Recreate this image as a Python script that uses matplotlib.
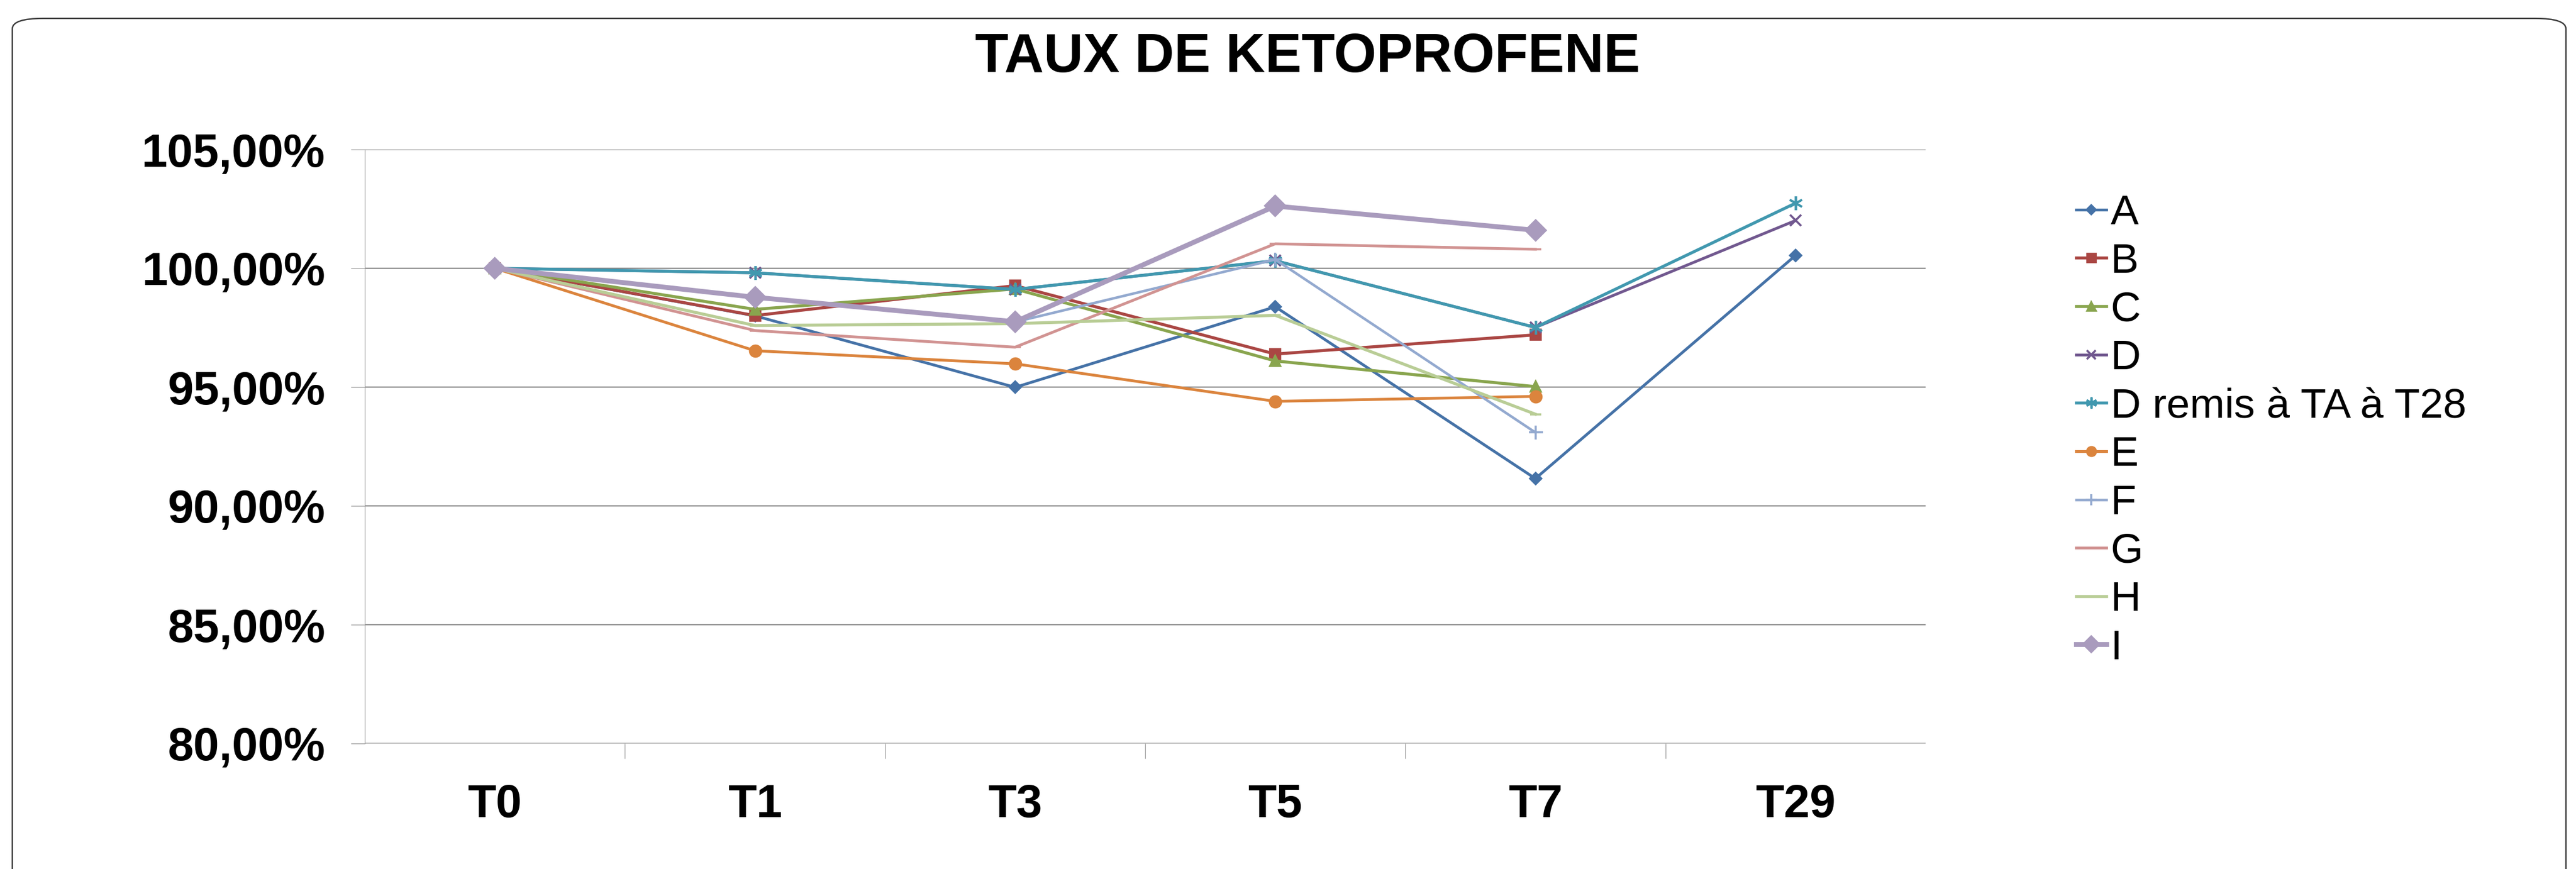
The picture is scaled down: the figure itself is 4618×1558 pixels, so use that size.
import numpy as np
from matplotlib import pyplot as plt
from matplotlib.patches import FancyBboxPatch
from matplotlib.ticker import FuncFormatter, FixedLocator

plt.rcParams["font.family"] = ["Liberation Sans", "DejaVu Sans"]

times = ["T0", "T1", "T3", "T5", "T7", "T29"]
nan = np.nan

series_names = ["A", "B", "C", "D", "D remis à TA à T28", "E", "F", "G", "H", "I"]
vals_a = [100.0, 98.00, 94.99, 98.38, 91.15, 100.54]
vals_b = [100.0, 98.01, 99.27, 96.39, 97.20, nan]
vals_c = [100.0, 98.27, 99.13, 96.10, 95.02, nan]
vals_d = [100.0, 99.81, 99.11, 100.32, 97.51, 102.01]
vals_d_remis = [100.0, 99.81, 99.11, 100.32, 97.51, 102.74]
vals_e = [100.0, 96.53, 95.98, 94.40, 94.61, nan]
vals_f = [100.0, 98.78, 97.74, 100.37, 93.09, nan]
vals_g = [100.0, 97.38, 96.68, 101.03, 100.80, nan]
vals_h = [100.0, 97.59, 97.67, 98.02, 93.86, nan]
vals_i = [100.0, 98.78, 97.75, 102.62, 101.60, nan]
all_vals = [vals_a, vals_b, vals_c, vals_d, vals_d_remis, vals_e, vals_f, vals_g, vals_h, vals_i]

colors = ["#4572A7", "#AA4643", "#89A54E", "#71588F", "#4198AF",
          "#DB843D", "#93A9CF", "#D19392", "#B9CD96", "#A99BBD"]
markers = ["D", "s", "^", "x", (6, 2, 0), "o", "+", "_", "_", "D"]
msizes = [3.5, 4.5, 4.5, 5, 6, 4.8, 6, 5, 5, 6]
lwidths = [1.2, 1.3, 1.3, 1.2, 1.3, 1.2, 1.1, 1.2, 1.3, 2.1]

W, H = 4618, 1558
fig = plt.figure(figsize=(W / 300, H / 300), dpi=300)

# rounded outer frame of the chart area
frame = FancyBboxPatch((22 / W, -0.2), (4600 - 22) / W, 1 - 33 / H + 0.2,
                       boxstyle="round,pad=0,rounding_size=0.012",
                       transform=fig.transFigure, fill=False,
                       edgecolor="#3a3a3a", linewidth=0.6)
fig.patches.append(frame)

ax = fig.add_axes([654 / W, 1 - 1333 / H, (3452 - 654) / W, (1333 - 268) / H])

x = np.arange(len(times))
for name, vals, c, m, ms, lw in zip(series_names, all_vals, colors, markers, msizes, lwidths):
    ax.plot(x, vals, color=c, marker=m, markersize=ms, linewidth=lw,
            markeredgewidth=0.9, label=name)

ax.set_xlim(-0.5, len(times) - 0.5)
ax.set_ylim(80, 105)
ax.set_yticks([80, 85, 90, 95, 100, 105])
ax.yaxis.set_major_formatter(FuncFormatter(lambda v, p: f"{v:.2f}%".replace(".", ",")))
ax.grid(axis="y", color="#8a8a8a", linewidth=0.55)
ax.set_axisbelow(True)

ax.set_xticks(x)
ax.set_xticklabels(times)
ax.xaxis.set_minor_locator(FixedLocator([0.5, 1.5, 2.5, 3.5, 4.5]))
ax.tick_params(axis="x", which="major", length=0, pad=17, labelsize=20)
ax.tick_params(axis="x", which="minor", length=6.5, width=0.3, color="#9a9a9a")
ax.tick_params(axis="y", length=6, width=0.3, color="#9a9a9a", pad=11, labelsize=20)
for lab in ax.get_xticklabels() + ax.get_yticklabels():
    lab.set_fontweight("bold")

for side in ["top", "right", "bottom"]:
    ax.spines[side].set_visible(False)
ax.spines["left"].set_color("#9a9a9a")
ax.spines["left"].set_linewidth(0.3)

fig.text(2344 / W, 1 - 103 / H, "TAUX DE KETOPROFENE", ha="center", va="center",
         fontsize=23.5, fontweight="bold")

ax.legend(loc="upper left", bbox_to_anchor=(3722 / W, 1 - 348 / H),
          bbox_transform=fig.transFigure, frameon=False, fontsize=18,
          borderpad=0, borderaxespad=0, handlelength=0.72, handletextpad=0.1,
          labelspacing=0.235, markerscale=0.8)

fig.savefig("out.png", dpi=300)
